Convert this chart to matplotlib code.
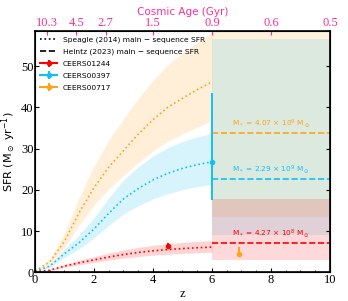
import numpy as np
import matplotlib
matplotlib.use("Agg")
import matplotlib.pyplot as plt
from matplotlib.ticker import MultipleLocator

# Speagle (2014) main sequence
z_ms = [0, 0.5, 1, 1.5, 2, 2.5, 3, 3.5, 4, 4.5, 5, 5.5, 6]
sfr_orange = [0.3, 2.5, 7.5, 14.5, 20.5, 25.5, 29.5, 33.5, 37.0, 40.0, 42.2, 44.3, 46.2]
sfr_blue = [0.2, 1.5, 4.5, 7.2, 10.5, 14.3, 17.8, 20.3, 22.4, 24.0, 25.2, 26.1, 26.8]
sfr_red = [0.1, 0.5, 1.5, 2.3, 3.0, 3.7, 4.3, 4.8, 5.2, 5.5, 5.75, 5.95, 6.1]
scatter_dex = 0.1

# Heintz (2023) main sequence at z > 6
z_heintz = [6, 10]
heintz_sfr = {'red': 7.2, 'blue': 22.7, 'orange': 33.7}
heintz_lo = {'red': 2.9, 'blue': 9.0, 'orange': 13.4}
heintz_hi = {'red': 17.7, 'blue': 56.5, 'orange': 84.7}
mass_labels = {'orange': r'M$_*$ = 4.07 × 10$^9$ M$_\odot$',
               'blue': r'M$_*$ = 2.29 × 10$^9$ M$_\odot$',
               'red': r'M$_*$ = 4.27 × 10$^8$ M$_\odot$'}

# galaxies
names = ['CEERS01244', 'CEERS00397', 'CEERS00717']
gal_z = [4.5, 6.0, 6.93]
gal_sfr = [6.4, 26.8, 4.4]
gal_err_lo = [0.8, 9.3, 0.5]
gal_err_hi = [0.8, 16.6, 1.8]

# top axis: cosmic age
age_z = [0.4, 1.4, 2.4, 4.0, 6, 8, 10]
age_labels = ['10.3', '4.5', '2.7', '1.5', '0.9', '0.6', '0.5']

cols = {'red': '#ff0000', 'blue': '#12c0f5', 'orange': '#ffa31a'}
pink = '#ff2d95'
serif = 'Liberation Serif'

fig = plt.figure(figsize=(3.48, 3.01), dpi=100)
ax = fig.add_axes([0.1006, 0.0955, 0.8474, 0.8025])

z = np.array(z_ms)
for key, vals in [('orange', sfr_orange), ('blue', sfr_blue), ('red', sfr_red)]:
    v = np.array(vals)
    ax.fill_between(z, v / 10**scatter_dex, v * 10**scatter_dex,
                    color=cols[key], alpha=0.17, lw=0)
    ax.plot(z, v, ls=':', color=cols[key], lw=1.2)

for key in ['orange', 'blue', 'red']:
    ax.fill_between(z_heintz, heintz_lo[key], heintz_hi[key],
                    color=cols[key], alpha=0.15, lw=0)
    ax.plot(z_heintz, [heintz_sfr[key]] * 2, ls='--', color=cols[key], lw=1.2)
    ax.text(8, heintz_sfr[key] + 0.7, mass_labels[key], color=cols[key],
            fontsize=5.3, ha='center', va='bottom')

ax.plot([], [], ls=':', color='k', lw=1.2, label='Speagle (2014) main − sequence SFR')
ax.plot([], [], ls='--', color='k', lw=1.2, label='Heintz (2023) main − sequence SFR')
for i, key in enumerate(['red', 'blue', 'orange']):
    ax.errorbar([gal_z[i]], [gal_sfr[i]], yerr=[[gal_err_lo[i]], [gal_err_hi[i]]],
                fmt='o-', color=cols[key], ms=3, elinewidth=1.4, label=names[i])

ax.set_xlim(0, 10)
ax.set_ylim(0, 58.6)
ax.xaxis.set_major_locator(MultipleLocator(2))
ax.xaxis.set_minor_locator(MultipleLocator(0.5))
ax.yaxis.set_major_locator(MultipleLocator(10))
ax.tick_params(which='both', direction='in', right=True)
ax.tick_params(which='major', length=3)
ax.tick_params(which='minor', length=1.5)
for lab in ax.get_xticklabels() + ax.get_yticklabels():
    lab.set_fontfamily(serif)
    lab.set_fontsize(9)
ax.tick_params(axis='x', pad=1)
ax.tick_params(axis='y', pad=1)
ax.set_xlabel('z', fontfamily=serif, fontsize=9, labelpad=2)
ax.set_ylabel(r'SFR (M$_\odot$ yr$^{-1}$)', fontsize=8, labelpad=2)
for s in ax.spines.values():
    s.set_linewidth(1.2)

ax2 = ax.twiny()
ax2.set_xlim(0, 10)
ax2.set_xticks(age_z)
ax2.set_xticklabels(age_labels, color=pink, fontfamily=serif, fontsize=9)
ax2.tick_params(direction='in', colors=pink, length=3, pad=1)
ax2.set_xlabel('Cosmic Age (Gyr)', color=pink, fontsize=7.5, labelpad=2)

ax.legend(loc='upper left', fontsize=5.4, frameon=False, handlelength=2.2,
          borderaxespad=0.3, labelspacing=0.75)

fig.savefig('out.png', dpi=100)
